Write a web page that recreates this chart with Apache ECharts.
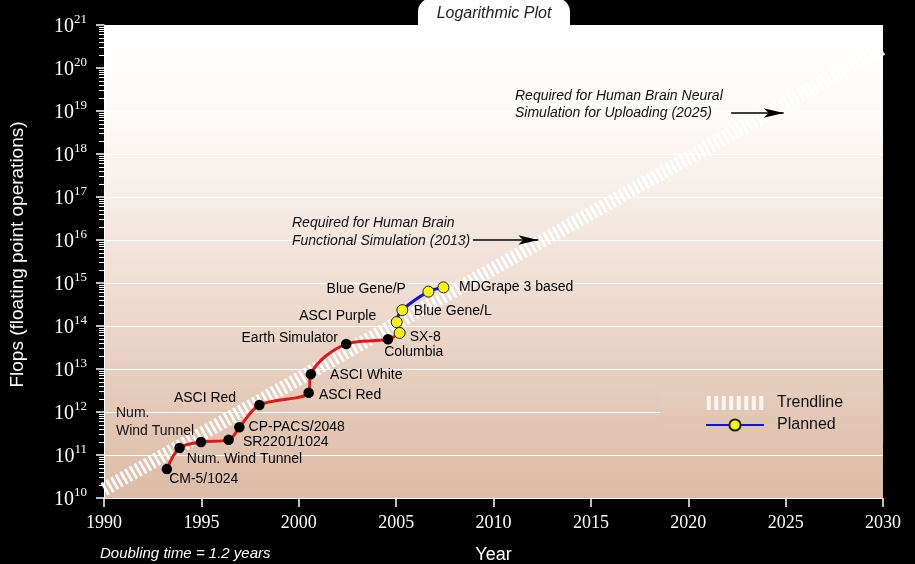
<!DOCTYPE html>
<html>
<head>
<meta charset="utf-8">
<script src="https://cdn.jsdelivr.net/npm/echarts@6/dist/echarts.min.js"></script>
<style>
html,body{margin:0;padding:0;background:#000;}
#chart{width:915px;height:564px;}
</style>
</head>
<body>
<div id="chart"></div>
<script>
// ---- data ----
const measuredYears = [1993.23, 1993.88, 1994.98, 1996.40, 1996.95, 1997.98, 2000.51, 2000.62, 2002.44, 2004.58];
const measuredFlops = [4.7e10, 1.45e11, 2.0e11, 2.25e11, 4.4e11, 1.45e12, 2.8e12, 7.6e12, 3.8e13, 4.9e13];
const measuredNames = ['CM-5/1024', 'Num. Wind Tunnel', '', 'SR2201/1024', 'CP-PACS/2048', 'ASCI Red', 'ASCI Red', 'ASCI White', 'Earth Simulator', 'Columbia'];

const plannedYears = [2005.18, 2005.03, 2005.32, 2006.66, 2007.43];
const plannedFlops = [6.9e13, 1.23e14, 2.34e14, 6.3e14, 7.9e14];
const plannedNames = ['SX-8', 'ASCI Purple', 'Blue Gene/L', 'Blue Gene/P', 'MDGrape 3 based'];

const trendYears = [1990, 2030];
const trendFlops = [1.6e10, 2.95e20];

const xTicks = [1990, 1995, 2000, 2005, 2010, 2015, 2020, 2025, 2030];

const brainFunctional = {text: 'Required for Human Brain\nFunctional Simulation (2013)', from: [2008.94, 1e16], to: [2012.3, 1e16]};
const brainUpload = {text: 'Required for Human Brain Neural\nSimulation for Uploading (2025)', from: [2022.2, 9e18], to: [2024.9, 9e18]};

// ---- label placement (style only) ----
const measuredLabelPos = [
  ['right', [-8, 10]], ['right', [-3, 11]], null, ['right', [4, 2]], ['right', [-1, 0]],
  ['left', [-13, -7]], ['right', [0, 2]], ['right', [9, 1]], ['left', [2, -6]], ['right', [-14, 13]]
];
const plannedLabelPos = [
  ['right', [-1, 4]], ['left', [-9.5, -6]], ['right', [0.5, 1]], ['left', [-11.5, -2]], ['right', [4.5, 0]]
];

const SANS = '"Liberation Sans", Arial, Helvetica, sans-serif';
const SERIF = '"Liberation Serif", "Times New Roman", serif';

function pts(xs, ys, names, pos) {
  return xs.map((x, i) => {
    const d = {value: [x, ys[i]], name: names ? names[i] : ''};
    if (pos) {
      const p = pos[i];
      if (p && names[i]) {
        d.label = {show: true, position: p[0], offset: p[1], formatter: names[i], color: '#000', textBorderWidth: 0};
      } else {
        d.label = {show: false};
      }
    }
    return d;
  });
}

// striped icon for the trendline legend entry
let stripePath = 'path://';
for (let i = 0; i < 8; i++) {
  const x0 = i * 7.5;
  stripePath += 'M' + x0 + ',0h4v14h-4z';
}

const redData = pts(measuredYears, measuredFlops).concat([{value: [plannedYears[0], plannedFlops[0]]}]);

const chart = echarts.init(document.getElementById('chart'));
const option = {
  backgroundColor: '#000',
  animation: false,
  grid: {
    left: 104, right: 32, top: 25, bottom: 66,
    containLabel: false, outerBoundsMode: 'none',
    show: true, borderWidth: 0,
    backgroundColor: {
      type: 'linear', x: 0, y: 0, x2: 0, y2: 1,
      colorStops: [
        {offset: 0, color: '#ffffff'},
        {offset: 0.2, color: '#fdfaf8'},
        {offset: 0.5, color: '#f1e2d9'},
        {offset: 0.8, color: '#e4c9b8'},
        {offset: 1, color: '#dcbca7'}
      ]
    }
  },
  legend: {
    orient: 'vertical',
    left: 660, top: 383,
    padding: [12, 40, 12, 45],
    itemGap: 6,
    itemWidth: 58, itemHeight: 14,
    backgroundColor: {
      type: 'linear', x: 0, y: 0, x2: 0, y2: 1,
      colorStops: [{offset: 0, color: '#e6cdbd'}, {offset: 1, color: '#e0c3b0'}]
    },
    data: [
      {name: 'Trendline', icon: stripePath, itemStyle: {color: '#fbf5f1'}},
      {name: 'Planned'}
    ],
    textStyle: {fontFamily: SANS, fontSize: 16, color: '#111', padding: [0, 0, 0, 8]},
    selectedMode: false
  },
  xAxis: {
    type: 'value', min: 1990, max: 2030, interval: 5,
    name: 'Year', nameLocation: 'middle', nameGap: 48,
    nameTextStyle: {color: '#fff', fontFamily: SANS, fontSize: 18},
    axisLine: {show: true, lineStyle: {color: '#fff', width: 1}},
    axisTick: {show: true, length: 9, inside: false, lineStyle: {color: '#fff', width: 1.5}},
    axisLabel: {color: '#fff', fontFamily: SERIF, fontSize: 18, margin: 16,
      formatter: v => xTicks.indexOf(v) >= 0 ? String(v) : ''},
    splitLine: {show: false}
  },
  yAxis: {
    type: 'log', logBase: 10, min: 1e10, max: 1e21, interval: 1,
    name: 'Flops (floating point operations)', nameLocation: 'middle', nameGap: 77,
    nameTextStyle: {color: '#fff', fontFamily: SANS, fontSize: 19, padding: [0, 0, 0, 14]},
    axisLine: {show: true, lineStyle: {color: '#fff', width: 1}},
    axisTick: {show: true, length: 8, lineStyle: {color: '#fff', width: 1.5}},
    minorTick: {show: true, splitNumber: 9, length: 5, lineStyle: {color: '#fff', width: 1}},
    axisLabel: {
      margin: 17,
      formatter: v => '{b|10}{s|' + Math.round(Math.log10(v)) + '}',
      rich: {
        b: {color: '#fff', fontFamily: SERIF, fontSize: 20, lineHeight: 24, verticalAlign: 'bottom'},
        s: {color: '#fff', fontFamily: SERIF, fontSize: 13, lineHeight: 24, verticalAlign: 'top'}
      }
    },
    splitLine: {show: true, lineStyle: {color: '#ffffff', width: 1.2}}
  },
  series: [
    {
      name: 'Trendline', type: 'line', z: 1,
      data: pts(trendYears, trendFlops),
      showSymbol: false, symbol: 'none',
      itemStyle: {color: '#ffffff'},
      lineStyle: {color: '#ffffff', width: 14, type: [2.8, 2.6], cap: 'butt', opacity: 0.95},
      markLine: {
        silent: true, symbol: ['none', 'arrow'], symbolSize: [7, 20],
        label: {show: false},
        lineStyle: {color: '#000', width: 1.5, type: 'solid'},
        data: [
          [{coord: brainFunctional.from}, {coord: brainFunctional.to}],
          [{coord: brainUpload.from}, {coord: brainUpload.to}]
        ]
      }
    },
    {
      name: 'Measured', type: 'line', z: 3,
      data: redData, smooth: 0.35, showSymbol: false, symbol: 'none',
      lineStyle: {color: '#e3171b', width: 3}
    },
    {
      name: 'MeasuredPts', type: 'scatter', z: 4,
      data: pts(measuredYears, measuredFlops, measuredNames, measuredLabelPos),
      symbol: 'circle', symbolSize: 10.5,
      itemStyle: {color: '#000', opacity: 1},
      label: {color: '#000', fontFamily: SANS, fontSize: 14}
    },
    {
      name: 'Planned', type: 'line', z: 5,
      data: pts(plannedYears, plannedFlops, plannedNames, plannedLabelPos),
      smooth: 0.35, symbol: 'circle', symbolSize: 11, showSymbol: true,
      lineStyle: {color: '#1414d8', width: 3},
      itemStyle: {color: '#f7f312', borderColor: '#222', borderWidth: 1},
      label: {color: '#000', fontFamily: SANS, fontSize: 14}
    }
  ],
  graphic: [
    {type: 'rect', left: 418, top: -2, shape: {width: 152, height: 27, r: [14, 14, 0, 0]}, style: {fill: '#ffffff'}, z: 10},
    {type: 'text', x: 494, y: 14, style: {text: 'Logarithmic Plot', fill: '#222', font: 'italic 16px ' + SANS, textAlign: 'center', textVerticalAlign: 'middle'}, z: 11},
    {type: 'text', x: 116, y: 404, style: {text: 'Num.\nWind Tunnel', fill: '#111', font: '14px ' + SANS, lineHeight: 18}, z: 11},
    {type: 'text', x: 292, y: 214, style: {text: brainFunctional.text, fill: '#111', font: 'italic 14px ' + SANS, lineHeight: 18}, z: 11},
    {type: 'text', x: 515, y: 88, style: {text: brainUpload.text, fill: '#111', font: 'italic 14px ' + SANS, lineHeight: 17}, z: 11},
    {type: 'text', x: 100, y: 554, style: {text: 'Doubling time = 1.2 years', fill: '#fff', font: 'italic 15px ' + SANS, textVerticalAlign: 'middle'}, z: 11}
  ]
};
chart.setOption(option);
</script>
</body>
</html>
